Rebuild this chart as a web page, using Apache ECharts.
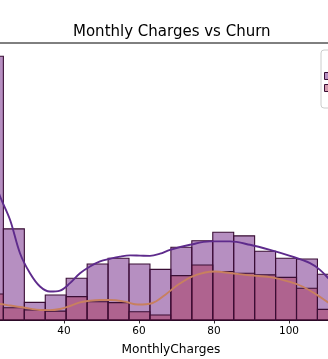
<!DOCTYPE html>
<html>
<head>
<meta charset="utf-8">
<script src="https://cdn.jsdelivr.net/npm/echarts@6/dist/echarts.min.js"></script>
<style>html,body{margin:0;padding:0;background:#fff}#c{width:328px;height:359px}</style>
</head>
<body>
<div id="c"></div>
<script>
// ---- data ----
var binEdges = [18.25, 23.83, 29.42, 35.0, 40.58, 46.17, 51.75, 57.33, 62.92, 68.5, 74.08, 79.67, 85.25, 90.83, 96.42, 102.0, 107.58, 113.17, 118.75];
var countsNo  = [1094, 378, 73, 104, 173, 232, 256, 232, 210, 302, 329, 364, 349, 285, 256, 253, 190, 75];
var countsYes = [108, 51, 42, 37, 97, 76, 72, 34, 21, 184, 228, 201, 194, 187, 177, 132, 44, 12];
var kdeNoX  = [18.25, 20, 21.5, 22.93, 25.6, 28.26, 30.93, 33.6, 36.26, 38.93, 41.6, 44.26, 46.93, 49.6, 52.26, 54.93, 57.6, 60.3, 62.93, 65.6, 68.26, 73.6, 78.93, 84.26, 89.6, 94.93, 100.26, 105.6, 108.26, 110.93, 113.6, 118.75];
var kdeNoY  = [590, 615, 580, 513, 416, 277, 194, 139, 118, 122, 153, 194, 222, 243, 254, 263, 268, 267, 266, 275, 291, 312, 326, 326, 312, 291, 266, 236, 208, 166, 125, 60];
var kdeYesX = [18.25, 20, 22.93, 25.6, 28.26, 30.93, 33.6, 36.26, 38.93, 41.6, 44.26, 46.93, 49.6, 52.26, 56.26, 59.73, 63.46, 66.93, 70.4, 74.13, 77.6, 80.26, 84.26, 89.6, 94.93, 100.26, 103.73, 107.46, 110.13, 113.0, 118.75];
var kdeYesY = [70, 72, 66.6, 60, 54, 47, 41.6, 41, 45.8, 58, 72.8, 80, 83.2, 83.2, 76, 64, 69.5, 104, 146, 180, 197, 201, 195, 185, 178, 158, 138, 104, 76, 50, 20];
var xTicks = [20, 40, 60, 80, 100, 120];
var hueLevels = ['No', 'Yes'];
var titleText = 'Monthly Charges vs Churn';
var xLabel = 'MonthlyCharges';
var legendTitle = 'Churn';

// ---- styles ----
var fillNo = 'rgba(109,31,131,0.5)';
var fillYes = 'rgba(170,55,93,0.5)';
var edge = '#3a0e35';
var lineNo = '#5e2b8c';
var lineYes = '#c8805f';
var FONT = 'DejaVu Sans';

function histData(counts) {
  return counts.map(function (c, i) { return [binEdges[i], binEdges[i + 1], c]; });
}
function pairs(xs, ys) { return xs.map(function (x, i) { return [x, ys[i]]; }); }
function histSeries(name, counts, fill) {
  return {
    name: name,
    type: 'custom',
    data: histData(counts),
    encode: { x: [0, 1], y: 2 },
    renderItem: function (params, api) {
      var p0 = api.coord([api.value(0), api.value(2)]);
      var p1 = api.coord([api.value(1), 0]);
      return {
        type: 'rect',
        shape: { x: p0[0], y: p0[1], width: p1[0] - p0[0], height: p1[1] - p0[1] },
        style: { fill: fill, stroke: edge, lineWidth: 1.1 }
      };
    },
    z: 2
  };
}

var chart = echarts.init(document.getElementById('c'), null, { renderer: 'canvas' });
chart.setOption({
  animation: false,
  textStyle: { fontFamily: FONT },
  title: {
    text: titleText,
    left: 68, top: 20,
    textStyle: { fontFamily: FONT, fontSize: 15, fontWeight: 'normal', color: '#000' }
  },
  grid: {
    left: -36.39, right: -50.17, top: 43, bottom: 39,
    containLabel: false, outerBoundsMode: 'none',
    show: true, borderColor: '#000', borderWidth: 1, backgroundColor: 'transparent'
  },
  legend: {
    left: 321, top: 50, orient: 'vertical',
    padding: [20, 8, 14, 3],
    itemWidth: 20, itemHeight: 7, itemGap: 0,
    backgroundColor: 'rgba(255,255,255,0.8)', borderColor: '#cccccc', borderWidth: 1, borderRadius: 3,
    textStyle: { fontFamily: FONT, fontSize: 10.5, lineHeight: 12, color: '#000' },
    data: [
      { name: hueLevels[0], icon: 'rect', itemStyle: { color: fillNo, borderColor: edge, borderWidth: 1 } },
      { name: hueLevels[1], icon: 'rect', itemStyle: { color: fillYes, borderColor: edge, borderWidth: 1 } }
    ]
  },
  graphic: [{
    type: 'text', left: 340, top: 54,
    style: { text: legendTitle, font: '10.5px "DejaVu Sans"', fill: '#000' }
  }],
  xAxis: {
    type: 'value', min: 13.225, max: 123.775,
    name: xLabel, nameLocation: 'middle', nameGap: 24,
    nameTextStyle: { fontFamily: FONT, fontSize: 12.2, color: '#000' },
    axisLine: { show: true, onZero: false, lineStyle: { color: '#000', width: 1 } },
    axisTick: { show: true, length: 3.5, lineStyle: { color: '#000', width: 0.8 }, customValues: xTicks },
    axisLabel: { show: true, margin: 6, fontFamily: FONT, fontSize: 10.5, color: '#000', customValues: xTicks },
    splitLine: { show: false }
  },
  yAxis: {
    type: 'value', min: 0, max: 1149, show: false, splitLine: { show: false }
  },
  series: [
    histSeries(hueLevels[0], countsNo, fillNo),
    histSeries(hueLevels[1], countsYes, fillYes),
    {
      name: 'kde-No', type: 'line', data: pairs(kdeNoX, kdeNoY), smooth: 0.35,
      showSymbol: false, symbol: 'none', lineStyle: { color: lineNo, width: 1.9 }, z: 3
    },
    {
      name: 'kde-Yes', type: 'line', data: pairs(kdeYesX, kdeYesY), smooth: 0.35,
      showSymbol: false, symbol: 'none', lineStyle: { color: lineYes, width: 1.9 }, z: 3
    }
  ]
});
</script>
</body>
</html>
